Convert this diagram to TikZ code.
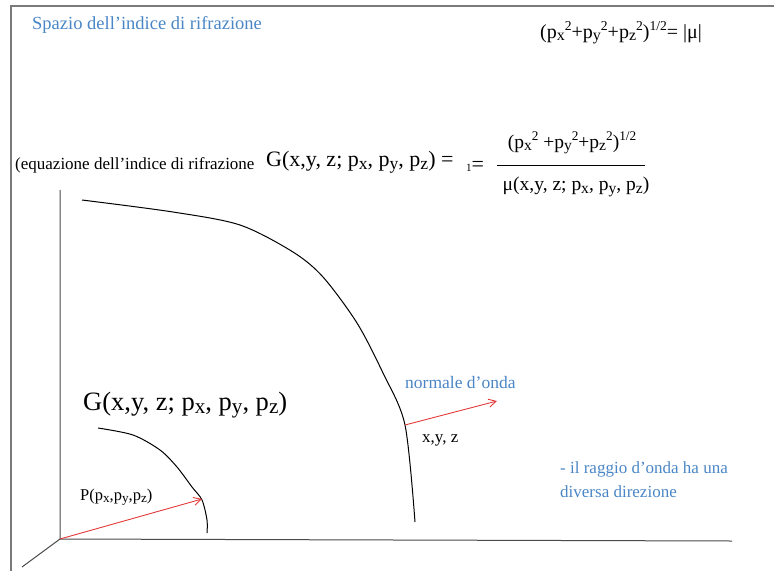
\documentclass[tikz,border=0pt]{standalone}
\usepackage{fontspec}
\usepackage{graphicx}
\setmainfont{Liberation Serif}
\usetikzlibrary{arrows.meta}
\definecolor{cSky}{HTML}{4A86C6}
\definecolor{cRed}{HTML}{E23A3A}
\definecolor{cFrame}{HTML}{7A7A7A}
\definecolor{cAxis}{HTML}{4A4A4A}
\newcommand{\sub}[1]{\raisebox{-0.28ex}{\scalebox{0.8}{#1}}}
\newcommand{\sups}[1]{\raisebox{0.8ex}{\scalebox{0.68}{#1}}}

\begin{document}
\begin{tikzpicture}[
  x=1pt,y=-1pt,
  >={Straight Barb[length=2.6mm,width=2.8mm]},
  txt/.style={anchor=west,inner sep=0pt,font=\fontsize{17.5}{20}\selectfont},
  small/.style={anchor=west,inner sep=0pt,font=\fontsize{16.5}{18}\selectfont},
  formula/.style={anchor=center,inner sep=0pt,font=\fontsize{19.5}{22}\selectfont},
  big/.style={anchor=west,inner sep=0pt,font=\fontsize{22}{26}\selectfont},
  note/.style={txt,text=cSky},
  axis/.style={cAxis,line width=1pt},
  surf/.style={black,line width=1pt},
  ray/.style={->,cRed,line width=0.9pt}
]
\useasboundingbox (0,0) rectangle (774,571);
\draw[cFrame,line width=1.4pt] (11,571) -- (11,6) -- (774,6);

% texts at the top
\node[note,font=\fontsize{18.5}{20}\selectfont] (title) at (32,25) {Spazio dell'indice di rifrazione};
\node[txt,font=\fontsize{20}{22}\selectfont] (normeq) at (540,33) {(p\sub{x}\sups{2}+p\sub{y}\sups{2}+p\sub{z}\sups{2})\sups{1/2}= |μ|};

\node[txt,font=\fontsize{17}{20}\selectfont] (eqlabel) at (15,165) {(equazione dell'indice di rifrazione};
\node[big] (Geq) at (266,162) {G(x,y, z; p\sub{x}, p\sub{y}, p\sub{z}) =};
\node[txt,font=\fontsize{22}{24}\selectfont] (one) at (466,166) {{\fontsize{11}{12}\selectfont 1}=};
\node[formula] (num) at (572,143) {(p\sub{x}\sups{2} +p\sub{y}\sups{2}+p\sub{z}\sups{2})\sups{1/2}};
\node[formula] (den) at (576,187) {μ(x,y, z; p\sub{x}, p\sub{y}, p\sub{z})};
\coordinate (barL) at (497,165);
\coordinate (barR) at (645,165);
\draw[black,line width=0.8pt] (barL) -- (barR);

% axes
\coordinate (O) at (60,539);
\coordinate (ztop) at (60,190);
\coordinate (xend) at (732,541);
\coordinate (yend) at (22,567);
\draw[axis] (ztop) -- (O) -- (xend);
\draw[axis] (O) -- (yend);

% surfaces
\draw[surf] plot[smooth] coordinates {(82,200) (173,212) (240,225) (293,252) (323,277) (357,323) (383,373) (405,425) (415,522)};
\draw[surf] plot[smooth] coordinates {(98,428) (133,435) (160,450) (177,467) (192,487) (202,500) (207,520) (207,533)};

\coordinate (P) at (202,499);
\coordinate (Q) at (405,425);
\coordinate (Qn) at (497,401);
\draw[ray] (O) -- (P);
\draw[ray] (Q) -- (Qn);

\node[big,font=\fontsize{26.5}{30}\selectfont] (Gsurf) at (83,405) {G(x,y, z; p\sub{x}, p\sub{y}, p\sub{z})};
\node[small] (Plabel) at (80,497) {P(p\sub{x},p\sub{y},p\sub{z})};
\node[note] (normal) at (405,383) {normale d'onda};
\node[small,font=\fontsize{17}{18}\selectfont] (xyz) at (422,440) {x,y, z};
\node[note,align=left,font=\fontsize{17}{24}\selectfont] (raynote) at (560,480) {- il raggio d'onda ha una\\diversa direzione};

\end{tikzpicture}
\end{document}
